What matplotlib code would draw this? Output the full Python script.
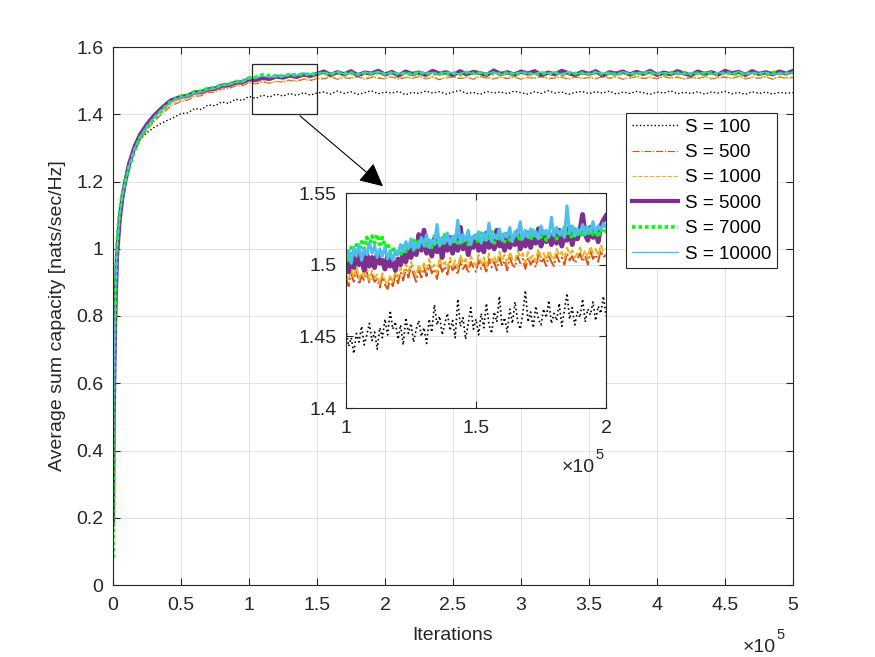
import numpy as np
import matplotlib
matplotlib.use('Agg')
import matplotlib.pyplot as plt
from matplotlib.patches import Rectangle

plt.rcParams['font.family'] = ['Liberation Sans', 'DejaVu Sans']

W, H = 875, 657

# ---- main plot data (iterations, average sum capacity) ----
early_it = [0, 200, 500, 1000, 1500, 2000, 3000, 5000, 7000, 9000, 12000, 16000,
            20000, 25000, 30000, 35000, 40000, 43000]
iters = np.concatenate([early_it, np.arange(50000, 500001, 5000)])

cap_100 = [0.15, 0.33, 0.52, 0.67, 0.79, 0.88, 1.00, 1.10, 1.155, 1.195, 1.245, 1.29,
           1.325, 1.345, 1.36, 1.372, 1.382, 1.387,
           1.402, 1.404, 1.417, 1.414, 1.428, 1.425, 1.437, 1.432, 1.445, 1.441,
           1.453, 1.447, 1.457, 1.451, 1.460, 1.454, 1.462, 1.456, 1.464, 1.457, 1.463,
           1.466, 1.460, 1.469, 1.462, 1.467, 1.459, 1.464, 1.470, 1.461, 1.466,
           1.463, 1.468, 1.458, 1.465, 1.462, 1.469, 1.463, 1.467, 1.460, 1.466,
           1.471, 1.462, 1.465, 1.459, 1.468, 1.463, 1.466, 1.461, 1.469, 1.464,
           1.460, 1.467, 1.462, 1.470, 1.463, 1.466, 1.459, 1.465, 1.468, 1.461,
           1.467, 1.463, 1.469, 1.460, 1.466, 1.462, 1.468, 1.464, 1.459, 1.466,
           1.463, 1.470, 1.461, 1.465, 1.462, 1.467, 1.460, 1.466, 1.463, 1.468,
           1.461, 1.465, 1.459, 1.467, 1.462, 1.466, 1.460, 1.465, 1.463, 1.464]
cap_500 = [0.15, 0.33, 0.52, 0.67, 0.79, 0.88, 1.00, 1.10, 1.155, 1.195, 1.245, 1.29,
           1.325, 1.353, 1.377, 1.397, 1.415, 1.425,
           1.438, 1.442, 1.453, 1.455, 1.464, 1.466, 1.475, 1.476, 1.484, 1.485,
           1.493, 1.490, 1.496, 1.492, 1.498, 1.495, 1.501, 1.497, 1.504, 1.500, 1.506,
           1.505, 1.511, 1.504, 1.509, 1.506, 1.512, 1.503, 1.510, 1.507, 1.505,
           1.511, 1.504, 1.509, 1.507, 1.512, 1.505, 1.510, 1.503, 1.508, 1.511,
           1.506, 1.509, 1.504, 1.512, 1.507, 1.505, 1.510, 1.506, 1.511, 1.504,
           1.509, 1.507, 1.512, 1.505, 1.508, 1.510, 1.504, 1.511, 1.506, 1.509,
           1.505, 1.512, 1.507, 1.510, 1.504, 1.508, 1.511, 1.506, 1.509, 1.505,
           1.512, 1.507, 1.510, 1.504, 1.509, 1.506, 1.511, 1.505, 1.508, 1.510,
           1.506, 1.512, 1.505, 1.509, 1.507, 1.511, 1.504, 1.510, 1.507, 1.509]
cap_1000 = [0.15, 0.33, 0.52, 0.67, 0.79, 0.88, 1.00, 1.10, 1.157, 1.197, 1.247, 1.293,
            1.328, 1.357, 1.382, 1.402, 1.42, 1.43,
            1.442, 1.446, 1.456, 1.459, 1.467, 1.470, 1.479, 1.480, 1.487, 1.488,
            1.496, 1.493, 1.499, 1.493, 1.497, 1.498, 1.503, 1.500, 1.506, 1.503, 1.508,
            1.508, 1.513, 1.506, 1.511, 1.509, 1.514, 1.507, 1.512, 1.510, 1.506,
            1.513, 1.508, 1.511, 1.509, 1.515, 1.507, 1.512, 1.505, 1.510, 1.513,
            1.508, 1.511, 1.506, 1.514, 1.509, 1.507, 1.512, 1.508, 1.513, 1.506,
            1.511, 1.509, 1.514, 1.507, 1.510, 1.512, 1.506, 1.513, 1.508, 1.511,
            1.507, 1.514, 1.509, 1.512, 1.506, 1.510, 1.513, 1.508, 1.511, 1.507,
            1.514, 1.509, 1.512, 1.506, 1.511, 1.508, 1.513, 1.507, 1.510, 1.512,
            1.508, 1.514, 1.507, 1.511, 1.509, 1.513, 1.506, 1.512, 1.509, 1.511]
cap_5000 = [0.18, 0.30, 0.49, 0.64, 0.76, 0.85, 0.98, 1.09, 1.155, 1.20, 1.255, 1.305,
            1.34, 1.37, 1.395, 1.415, 1.433, 1.442,
            1.452, 1.455, 1.465, 1.466, 1.474, 1.476, 1.485, 1.486, 1.494, 1.495,
            1.504, 1.502, 1.508, 1.505, 1.512, 1.509, 1.515, 1.511, 1.518, 1.514, 1.520,
            1.527, 1.517, 1.525, 1.519, 1.528, 1.516, 1.524, 1.521, 1.529, 1.518,
            1.526, 1.515, 1.527, 1.520, 1.524, 1.517, 1.529, 1.521, 1.525, 1.516,
            1.528, 1.519, 1.526, 1.522, 1.517, 1.530, 1.520, 1.525, 1.518, 1.527,
            1.521, 1.528, 1.516, 1.524, 1.519, 1.529, 1.522, 1.517, 1.526, 1.520,
            1.528, 1.515, 1.525, 1.521, 1.527, 1.518, 1.526, 1.520, 1.529, 1.517,
            1.524, 1.519, 1.528, 1.521, 1.516, 1.527, 1.520, 1.525, 1.518, 1.529,
            1.522, 1.526, 1.517, 1.528, 1.520, 1.525, 1.519, 1.527, 1.521, 1.529]
cap_7000 = [0.08, 0.36, 0.56, 0.70, 0.81, 0.90, 1.02, 1.115, 1.165, 1.20, 1.245, 1.295,
            1.33, 1.36, 1.387, 1.408, 1.428, 1.440,
            1.453, 1.457, 1.466, 1.469, 1.477, 1.479, 1.488, 1.489, 1.497, 1.498,
            1.508, 1.510, 1.517, 1.515, 1.513, 1.514, 1.518, 1.516, 1.520, 1.518, 1.521,
            1.522, 1.519, 1.524, 1.520, 1.523, 1.518, 1.522, 1.521, 1.524, 1.519,
            1.523, 1.520, 1.522, 1.518, 1.524, 1.521, 1.519, 1.523, 1.520, 1.522,
            1.518, 1.524, 1.521, 1.523, 1.519, 1.522, 1.520, 1.524, 1.518, 1.523,
            1.521, 1.519, 1.522, 1.520, 1.524, 1.518, 1.523, 1.521, 1.522, 1.519,
            1.524, 1.520, 1.522, 1.518, 1.523, 1.521, 1.519, 1.524, 1.520, 1.522,
            1.518, 1.523, 1.521, 1.524, 1.519, 1.522, 1.520, 1.523, 1.518, 1.524,
            1.521, 1.519, 1.522, 1.520, 1.523, 1.519, 1.524, 1.521, 1.522, 1.523]
cap_10000 = [0.12, 0.32, 0.52, 0.67, 0.79, 0.88, 1.00, 1.10, 1.16, 1.20, 1.25, 1.30,
             1.335, 1.365, 1.39, 1.41, 1.428, 1.438,
             1.450, 1.453, 1.463, 1.465, 1.474, 1.476, 1.486, 1.487, 1.495, 1.496,
             1.506, 1.508, 1.514, 1.510, 1.513, 1.512, 1.518, 1.515, 1.521, 1.518, 1.522,
             1.524, 1.519, 1.526, 1.520, 1.523, 1.518, 1.525, 1.521, 1.527, 1.519,
             1.524, 1.520, 1.523, 1.518, 1.526, 1.521, 1.524, 1.519, 1.525, 1.522,
             1.520, 1.528, 1.519, 1.524, 1.521, 1.526, 1.518, 1.523, 1.520, 1.525,
             1.522, 1.519, 1.526, 1.521, 1.524, 1.518, 1.527, 1.520, 1.523, 1.519,
             1.525, 1.521, 1.524, 1.518, 1.526, 1.520, 1.523, 1.522, 1.528, 1.519,
             1.524, 1.521, 1.525, 1.518, 1.523, 1.520, 1.526, 1.519, 1.524, 1.522,
             1.520, 1.527, 1.519, 1.524, 1.521, 1.525, 1.518, 1.523, 1.521, 1.525]

# ---- zoomed window data (1e5 .. 2e5) ----
zoom_it = np.arange(100000, 200001, 1000)
zoom_100 = [1.455, 1.443, 1.449, 1.438, 1.452, 1.446, 1.457, 1.444, 1.451, 1.459,
            1.447, 1.453, 1.441, 1.456, 1.449, 1.462, 1.451, 1.468, 1.455, 1.460,
            1.448, 1.458, 1.444, 1.463, 1.452, 1.459, 1.446, 1.455, 1.461, 1.450,
            1.456, 1.445, 1.462, 1.453, 1.472, 1.458, 1.464, 1.451, 1.459, 1.466,
            1.454, 1.461, 1.449, 1.476, 1.457, 1.463, 1.448, 1.459, 1.470, 1.455,
            1.462, 1.451, 1.466, 1.456, 1.473, 1.458, 1.452, 1.467, 1.460, 1.478,
            1.457, 1.463, 1.453, 1.469, 1.459, 1.474, 1.461, 1.455, 1.466, 1.482,
            1.460, 1.467, 1.456, 1.471, 1.462, 1.458, 1.469, 1.463, 1.475, 1.459,
            1.466, 1.461, 1.473, 1.457, 1.468, 1.480, 1.462, 1.470, 1.458, 1.467,
            1.463, 1.476, 1.460, 1.469, 1.465, 1.474, 1.461, 1.471, 1.466, 1.478,
            1.464]
zoom_500 = [1.491, 1.485, 1.494, 1.488, 1.497, 1.486, 1.492, 1.489, 1.495, 1.487,
            1.493, 1.488, 1.490, 1.484, 1.492, 1.486, 1.483, 1.490, 1.485, 1.493,
            1.487, 1.495, 1.489, 1.497, 1.491, 1.499, 1.493, 1.488, 1.496, 1.491,
            1.498, 1.492, 1.500, 1.494, 1.497, 1.490, 1.501, 1.495, 1.499, 1.493,
            1.502, 1.496, 1.499, 1.493, 1.503, 1.497, 1.500, 1.494, 1.502, 1.498,
            1.495, 1.503, 1.497, 1.501, 1.494, 1.504, 1.498, 1.502, 1.496, 1.505,
            1.499, 1.503, 1.496, 1.505, 1.500, 1.498, 1.506, 1.501, 1.504, 1.497,
            1.505, 1.500, 1.503, 1.498, 1.507, 1.501, 1.504, 1.499, 1.506, 1.502,
            1.499, 1.507, 1.502, 1.505, 1.500, 1.508, 1.503, 1.506, 1.501, 1.504,
            1.508, 1.502, 1.506, 1.500, 1.509, 1.504, 1.507, 1.502, 1.510, 1.505,
            1.507]
zoom_1000 = [1.494, 1.489, 1.497, 1.491, 1.499, 1.490, 1.495, 1.492, 1.498, 1.489,
             1.496, 1.491, 1.493, 1.487, 1.494, 1.489, 1.486, 1.493, 1.488, 1.496,
             1.491, 1.498, 1.493, 1.501, 1.495, 1.502, 1.497, 1.492, 1.500, 1.495,
             1.501, 1.496, 1.504, 1.498, 1.500, 1.494, 1.505, 1.499, 1.502, 1.497,
             1.505, 1.499, 1.503, 1.497, 1.507, 1.501, 1.504, 1.498, 1.506, 1.502,
             1.499, 1.507, 1.501, 1.505, 1.498, 1.508, 1.502, 1.506, 1.500, 1.509,
             1.503, 1.507, 1.500, 1.509, 1.504, 1.502, 1.510, 1.505, 1.508, 1.501,
             1.509, 1.504, 1.507, 1.502, 1.511, 1.505, 1.508, 1.503, 1.510, 1.506,
             1.503, 1.511, 1.506, 1.509, 1.504, 1.512, 1.507, 1.510, 1.505, 1.508,
             1.512, 1.506, 1.510, 1.504, 1.513, 1.508, 1.511, 1.506, 1.514, 1.509,
             1.511]
zoom_5000 = [1.501, 1.495, 1.506, 1.498, 1.509, 1.500, 1.504, 1.496, 1.507, 1.499,
             1.505, 1.498, 1.508, 1.501, 1.503, 1.497, 1.506, 1.499, 1.502, 1.496,
             1.504, 1.500, 1.508, 1.502, 1.511, 1.505, 1.513, 1.507, 1.521, 1.510,
             1.524, 1.508, 1.515, 1.506, 1.518, 1.509, 1.514, 1.505, 1.517, 1.510,
             1.519, 1.508, 1.516, 1.510, 1.526, 1.511, 1.518, 1.507, 1.515, 1.512,
             1.520, 1.510, 1.517, 1.509, 1.522, 1.512, 1.518, 1.511, 1.524, 1.513,
             1.516, 1.510, 1.521, 1.512, 1.519, 1.514, 1.523, 1.511, 1.518, 1.513,
             1.522, 1.512, 1.519, 1.515, 1.525, 1.513, 1.520, 1.516, 1.522, 1.514,
             1.521, 1.515, 1.524, 1.513, 1.520, 1.517, 1.526, 1.514, 1.522, 1.518,
             1.524, 1.535, 1.521, 1.517, 1.526, 1.519, 1.523, 1.516, 1.527, 1.531,
             1.534]
zoom_7000 = [1.508, 1.503, 1.512, 1.506, 1.514, 1.509, 1.516, 1.511, 1.519, 1.513,
             1.520, 1.515, 1.521, 1.514, 1.519, 1.512, 1.515, 1.509, 1.512, 1.507,
             1.510, 1.506, 1.513, 1.509, 1.515, 1.511, 1.517, 1.512, 1.518, 1.514,
             1.519, 1.513, 1.517, 1.512, 1.520, 1.514, 1.518, 1.513, 1.521, 1.515,
             1.518, 1.514, 1.520, 1.515, 1.522, 1.516, 1.519, 1.514, 1.521, 1.517,
             1.520, 1.515, 1.522, 1.516, 1.519, 1.517, 1.523, 1.515, 1.521, 1.518,
             1.521, 1.516, 1.523, 1.517, 1.520, 1.518, 1.524, 1.516, 1.522, 1.519,
             1.522, 1.517, 1.524, 1.518, 1.521, 1.519, 1.525, 1.517, 1.523, 1.520,
             1.522, 1.518, 1.524, 1.519, 1.526, 1.520, 1.523, 1.518, 1.525, 1.521,
             1.523, 1.519, 1.526, 1.520, 1.524, 1.521, 1.527, 1.519, 1.525, 1.522,
             1.524]
zoom_10000 = [1.504, 1.510, 1.501, 1.512, 1.506, 1.514, 1.503, 1.511, 1.507, 1.515,
              1.508, 1.513, 1.505, 1.511, 1.506, 1.512, 1.504, 1.509, 1.503, 1.510,
              1.507, 1.514, 1.509, 1.516, 1.511, 1.518, 1.510, 1.515, 1.512, 1.519,
              1.513, 1.521, 1.512, 1.517, 1.514, 1.528, 1.513, 1.519, 1.515, 1.522,
              1.514, 1.520, 1.516, 1.531, 1.515, 1.521, 1.517, 1.524, 1.514, 1.520,
              1.518, 1.523, 1.515, 1.522, 1.517, 1.529, 1.516, 1.521, 1.518, 1.525,
              1.517, 1.522, 1.519, 1.526, 1.516, 1.523, 1.520, 1.530, 1.518, 1.524,
              1.519, 1.525, 1.520, 1.523, 1.518, 1.527, 1.521, 1.524, 1.519, 1.533,
              1.520, 1.526, 1.521, 1.524, 1.519, 1.541, 1.522, 1.527, 1.520, 1.525,
              1.522, 1.528, 1.521, 1.526, 1.523, 1.530, 1.522, 1.527, 1.524, 1.529,
              1.526]

labels = ['S = 100', 'S = 500', 'S = 1000', 'S = 5000', 'S = 7000', 'S = 10000']
main_data = [cap_100, cap_500, cap_1000, cap_5000, cap_7000, cap_10000]
zoom_data = [zoom_100, zoom_500, zoom_1000, zoom_5000, zoom_7000, zoom_10000]

styles = [dict(color='black', ls=':', lw=1.0),
          dict(color='#D95319', ls='-.', lw=0.8),
          dict(color='#EDB120', ls='--', lw=0.8),
          dict(color='#7E2F8E', ls='-', lw=3.0),
          dict(color='#00FF00', ls=(0, (1.0, 0.8)), lw=2.6),
          dict(color='#4DBEEE', ls='-', lw=1.0)]
# the noisy traces look heavier in the zoomed window
inset_lw = [1.2, 1.4, 1.4, 3.5, 2.6, 2.2]

AX_COL = '#262626'
GRID_COL = '#dedede'


def style_axes(ax):
    for sp in ax.spines.values():
        sp.set_color(AX_COL)
        sp.set_linewidth(0.8)
    ax.tick_params(direction='in', length=5, width=0.8, color=AX_COL,
                   labelcolor=AX_COL, labelsize=14, top=True, right=True)
    ax.tick_params(axis='x', pad=8.5)
    ax.tick_params(axis='y', pad=7)
    ax.grid(True, color=GRID_COL, lw=0.6)
    ax.set_axisbelow(True)


def fx(px):
    return px / W


def fy(py):
    return 1 - py / H


fig = plt.figure(figsize=(W / 100, H / 100), dpi=100)
ax = fig.add_axes([fx(113), fy(585), (793 - 113) / W, (585 - 47) / H])

lines = []
for y, lab, st in zip(main_data, labels, styles):
    ln, = ax.plot(iters, y, label=lab, **st)
    lines.append(ln)

ax.set_xlim(0, 500000)
ax.set_ylim(0, 1.6)
xt = np.arange(0, 500001, 50000)
ax.set_xticks(xt)
ax.set_xticklabels(['0', '0.5', '1', '1.5', '2', '2.5', '3', '3.5', '4', '4.5', '5'])
yt = [0, 0.2, 0.4, 0.6, 0.8, 1.0, 1.2, 1.4, 1.6]
ax.set_yticks(yt)
ax.set_yticklabels(['0', '0.2', '0.4', '0.6', '0.8', '1', '1.2', '1.4', '1.6'])
style_axes(ax)

# zoom window and arrow
ax.add_patch(Rectangle((102000, 1.4), 48000, 0.15, fill=False, ec=AX_COL, lw=0.9, zorder=5))
ax.annotate('', xy=(198500, 1.186), xytext=(137500, 1.395),
            arrowprops=dict(arrowstyle='-|>,head_length=0.9,head_width=0.45', color='black',
                            lw=0.8, shrinkA=0, shrinkB=0, mutation_scale=16), zorder=6)

leg = ax.legend(handles=lines, loc='upper right', bbox_to_anchor=(fx(777), fy(113)),
                bbox_transform=fig.transFigure, borderaxespad=0, fontsize=13.5,
                frameon=True, fancybox=False, framealpha=1, edgecolor=AX_COL,
                handlelength=2.5, handletextpad=0.35, labelspacing=0.44, borderpad=0.3)
leg.get_frame().set_linewidth(0.8)
for t in leg.get_texts():
    t.set_color('black')

fig.text(fx(57), fy(316), 'Average sum capacity [nats/sec/Hz]', rotation=90,
         ha='center', va='center', fontsize=14, color=AX_COL)
fig.text(fx(453), fy(636), 'Iterations', ha='center', va='center', fontsize=14, color=AX_COL)
fig.text(fx(743), fy(647), '\u00d710', ha='left', va='center', fontsize=14, color=AX_COL)
fig.text(fx(776), fy(635), '5', ha='left', va='center', fontsize=10.5, color=AX_COL)

# inset
ins = fig.add_axes([fx(346), fy(408), (606 - 346) / W, (408 - 193) / H])
ins.set_facecolor('white')
for y, st, lw in zip(zoom_data, styles, inset_lw):
    ins.plot(zoom_it, y, **dict(st, lw=lw))
ins.set_xlim(100000, 200000)
ins.set_ylim(1.4, 1.55)
ins.set_xticks([100000, 150000, 200000])
ins.set_xticklabels(['1', '1.5', '2'])
ins.set_yticks([1.4, 1.45, 1.5, 1.55])
ins.set_yticklabels(['1.4', '1.45', '1.5', '1.55'])
style_axes(ins)
fig.text(fx(562), fy(467), '\u00d710', ha='left', va='center', fontsize=14, color=AX_COL)
fig.text(fx(595), fy(455), '5', ha='left', va='center', fontsize=10.5, color=AX_COL)

fig.savefig('out.png', dpi=100)
